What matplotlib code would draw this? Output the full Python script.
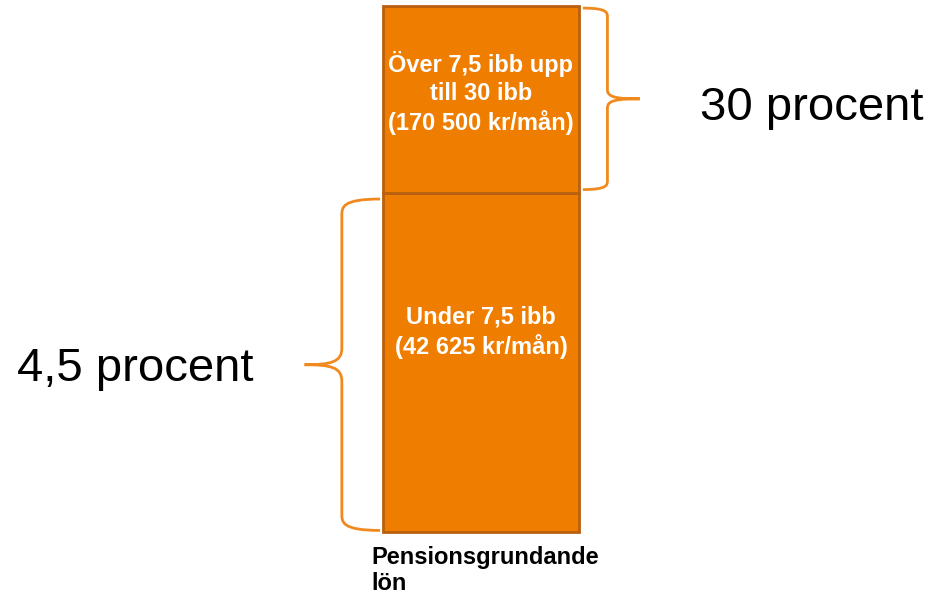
import matplotlib.pyplot as plt
from matplotlib.path import Path
from matplotlib.patches import PathPatch

plt.rcParams['font.family'] = ['Liberation Sans', 'DejaVu Sans']

# schematic segment heights (share of the bar), bottom to top
segments = [64.5, 35.5]
seg_labels = ['Under 7,5 ibb\n(42 625 kr/mån)',
              'Över 7,5 ibb upp\ntill 30 ibb\n(170 500 kr/mån)']
rates = ['4,5 procent', '30 procent']
bar_label = 'Pensionsgrundande\nlön'

fill = '#EF7D00'
edge = '#B8600F'

fig = plt.figure(figsize=(9.3, 5.94), dpi=100)
ax = fig.add_axes([383 / 930, 62 / 594, 196 / 930, 526 / 594])
ax.set_xlim(-0.5, 0.5)
ax.set_ylim(0, sum(segments))
ax.axis('off')

bottom = 0
for h, lab in zip(segments, seg_labels):
    ax.bar(0, h, width=1, bottom=bottom, color=fill, edgecolor=edge,
           linewidth=2, clip_on=False)
    bottom += h

# text positions inside segments
ax.text(0, segments[0] + segments[1] * 0.535, seg_labels[1], ha='center', va='center',
        color='white', fontsize=17, fontweight='bold', linespacing=1.27)
ax.text(0, segments[0] * 0.588, seg_labels[0], ha='center', va='center',
        color='white', fontsize=17, fontweight='bold', linespacing=1.27)


def brace(ax, x_end, x_mid, x_tip, y0, y1, color):
    # curly brace between y0 and y1; ends at x_end, spine at x_mid, tip at x_tip
    ym = (y0 + y1) / 2
    t = x_tip - x_mid
    k = (y1 - y0) * 0.025
    verts = [(x_end, y0), (x_mid, y0), (x_mid, y0 + k), (x_mid, y0 + 2 * k),
             (x_mid, ym - 2 * k),
             (x_mid, ym - k * 0.3), (x_mid + t * 0.3, ym), (x_tip, ym),
             (x_mid + t * 0.3, ym), (x_mid, ym + k * 0.3), (x_mid, ym + 2 * k),
             (x_mid, y1 - 2 * k),
             (x_mid, y1 - k), (x_mid, y1), (x_end, y1)]
    codes = [Path.MOVETO, Path.CURVE4, Path.CURVE4, Path.CURVE4,
             Path.LINETO,
             Path.CURVE4, Path.CURVE4, Path.CURVE4,
             Path.CURVE4, Path.CURVE4, Path.CURVE4,
             Path.LINETO,
             Path.CURVE4, Path.CURVE4, Path.CURVE4]
    ax.add_patch(PathPatch(Path(verts, codes), fill=False, edgecolor=color,
                           linewidth=2, clip_on=False))


total = sum(segments)
# right brace for top segment
brace(ax, 0.52, 0.645, 0.81, total - 0.4, segments[0] + 0.6, '#F08A1E')
# left brace for bottom segment
brace(ax, -0.515, -0.71, -0.90, segments[0] - 1.2, 0.3, '#F08A1E')

ax.text(1.115, segments[0] + segments[1] / 2 - 1.7, rates[1], ha='left', va='center',
        fontsize=34, color='black')
ax.text(-1.163, segments[0] / 2 - 1.2, rates[0], ha='right', va='center',
        fontsize=34, color='black')

ax.text(-0.56, -2.6, bar_label, ha='left', va='top', fontsize=17,
        fontweight='bold', color='black', linespacing=1.2)

fig.savefig('out.png', dpi=100)
